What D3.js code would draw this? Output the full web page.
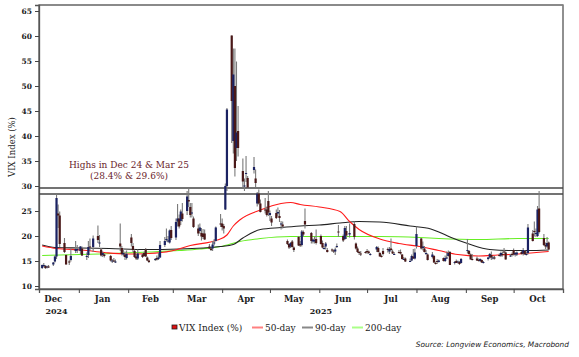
<!DOCTYPE html>
<html><head><meta charset="utf-8">
<script src="https://cdn.jsdelivr.net/npm/d3@7"></script>
<style>
html,body{margin:0;padding:0;background:#fff;}
svg{display:block;}
</style></head>
<body>
<svg id="chart" width="579" height="357"></svg>
<script>
// ---------- DATA ----------
const candleDates = [
"2024-12-09","2024-12-10","2024-12-11","2024-12-12","2024-12-13","2024-12-16","2024-12-17","2024-12-18","2024-12-19","2024-12-20","2024-12-23","2024-12-24","2024-12-26","2024-12-27","2024-12-30","2024-12-31",
"2025-01-02","2025-01-03","2025-01-06","2025-01-07","2025-01-08","2025-01-10","2025-01-13","2025-01-14","2025-01-15","2025-01-16","2025-01-17","2025-01-21","2025-01-22","2025-01-23","2025-01-24","2025-01-27","2025-01-28","2025-01-29","2025-01-30","2025-01-31",
"2025-02-03","2025-02-04","2025-02-05","2025-02-06","2025-02-07","2025-02-10","2025-02-11","2025-02-12","2025-02-13","2025-02-14","2025-02-18","2025-02-19","2025-02-20","2025-02-21","2025-02-24","2025-02-25","2025-02-26","2025-02-27","2025-02-28",
"2025-03-03","2025-03-04","2025-03-05","2025-03-06","2025-03-07","2025-03-10","2025-03-11","2025-03-12","2025-03-13","2025-03-14","2025-03-17","2025-03-18","2025-03-19","2025-03-20","2025-03-21","2025-03-24","2025-03-25","2025-03-26","2025-03-27","2025-03-28","2025-03-31",
"2025-04-01","2025-04-02","2025-04-03","2025-04-04","2025-04-07","2025-04-08","2025-04-09","2025-04-10","2025-04-11","2025-04-14","2025-04-15","2025-04-16","2025-04-17","2025-04-21","2025-04-22","2025-04-23","2025-04-24","2025-04-25","2025-04-28","2025-04-29","2025-04-30",
"2025-05-01","2025-05-02","2025-05-05","2025-05-06","2025-05-07","2025-05-08","2025-05-09","2025-05-12","2025-05-13","2025-05-14","2025-05-15","2025-05-16","2025-05-19","2025-05-20","2025-05-21","2025-05-22","2025-05-23","2025-05-27","2025-05-28","2025-05-29","2025-05-30",
"2025-06-02","2025-06-03","2025-06-04","2025-06-05","2025-06-06","2025-06-09","2025-06-10","2025-06-11","2025-06-12","2025-06-13","2025-06-16","2025-06-17","2025-06-18","2025-06-20","2025-06-23","2025-06-24","2025-06-25","2025-06-26","2025-06-27","2025-06-30",
"2025-07-01","2025-07-02","2025-07-03","2025-07-07","2025-07-08","2025-07-09","2025-07-10","2025-07-11","2025-07-14","2025-07-15","2025-07-16","2025-07-17","2025-07-18","2025-07-21","2025-07-22","2025-07-23","2025-07-24","2025-07-25","2025-07-28","2025-07-29","2025-07-30","2025-07-31",
"2025-08-01","2025-08-04","2025-08-05","2025-08-06","2025-08-07","2025-08-08","2025-08-11","2025-08-12","2025-08-13","2025-08-14","2025-08-15","2025-08-18","2025-08-19","2025-08-20","2025-08-21","2025-08-22","2025-08-25","2025-08-26","2025-08-27","2025-08-28","2025-08-29",
"2025-09-02","2025-09-03","2025-09-04","2025-09-05","2025-09-08","2025-09-09","2025-09-10","2025-09-11","2025-09-12","2025-09-15","2025-09-16","2025-09-17","2025-09-18","2025-09-19","2025-09-22","2025-09-23","2025-09-24","2025-09-25","2025-09-26","2025-09-29","2025-09-30",
"2025-10-01","2025-10-02","2025-10-03","2025-10-06","2025-10-07","2025-10-08","2025-10-09","2025-10-10","2025-10-13","2025-10-14","2025-10-15","2025-10-16","2025-10-17","2025-10-20","2025-10-21","2025-10-22","2025-10-23"
];
const opens = [
13.6,14.1,14.0,13.7,13.9,14.3,14.9,15.9,24.5,24.1,18.6,16.2,14.9,15.2,17.0,17.1,
17.0,17.5,16.0,16.2,17.9,17.8,20.0,18.6,17.3,16.2,16.3,16.0,15.0,15.1,14.9,18.5,17.6,16.3,16.3,15.6,
19.7,18.0,17.0,15.9,15.5,16.3,16.6,17.3,15.7,15.1,15.4,15.6,15.4,15.7,18.2,19.2,19.1,18.7,21.2,
19.7,22.9,23.5,23.0,24.5,25.0,27.2,25.8,24.5,23.5,21.5,21.0,20.6,20.5,20.5,17.9,17.5,17.5,18.6,19.0,22.5,
22.5,22.0,25.3,30.0,60.1,39.0,50.0,37.6,41.0,33.0,30.0,32.5,31.6,33.2,31.5,26.5,28.5,26.5,25.3,25.3,27.0,
24.2,23.5,24.6,24.5,24.0,22.3,22.3,19.0,18.4,17.9,18.9,17.7,19.8,18.4,18.2,20.8,23.0,20.6,18.9,18.9,19.4,
20.0,18.6,17.6,17.9,17.2,17.3,17.1,16.9,18.0,20.9,20.0,19.4,21.0,20.3,22.4,18.5,17.5,16.8,16.5,16.8,
17.0,16.9,16.4,17.3,17.6,16.6,16.0,17.0,17.4,16.9,17.5,16.9,16.3,16.8,16.8,16.3,15.4,15.5,15.0,15.1,15.9,15.5,
18.0,19.5,17.6,17.5,16.5,16.3,15.8,16.0,14.6,15.0,14.8,15.6,15.0,15.7,16.0,16.8,14.6,15.0,14.9,14.8,14.6,
17.0,17.0,16.3,15.4,15.5,15.2,15.0,15.2,14.6,15.4,15.7,16.2,15.6,15.7,16.2,16.1,16.4,16.9,16.7,15.9,16.4,
17.2,16.3,16.3,16.8,16.5,17.0,16.3,16.6,20.5,21.0,20.5,20.0,25.5,19.6,18.2,17.9,18.7
];
const highs = [
14.3,14.6,14.2,14.1,14.2,14.8,16.1,28.4,26.3,24.9,19.6,16.3,15.2,17.5,19.0,18.2,
18.0,17.9,16.7,19.0,19.5,20.1,22.1,20.2,17.6,16.9,16.5,16.2,15.4,15.6,15.3,22.5,18.0,17.2,16.9,17.1,
20.4,18.6,17.3,16.4,17.3,16.5,16.9,17.6,15.9,15.3,15.6,16.1,16.6,19.0,19.8,21.5,20.0,21.3,22.0,
23.5,26.4,24.3,25.3,26.6,29.0,29.6,26.6,26.6,23.9,22.3,22.5,21.6,21.4,21.3,18.4,17.9,19.0,19.4,21.9,24.4,
23.5,22.4,30.5,45.6,60.1,57.5,57.5,54.9,46.0,35.5,31.5,36.0,32.0,35.8,33.3,28.8,29.3,27.3,27.6,25.9,29.0,
25.1,24.0,25.3,25.7,25.2,23.0,22.9,19.3,18.5,18.8,19.2,17.9,20.0,19.0,21.2,21.1,25.5,20.8,19.5,19.9,21.3,
20.3,19.1,18.0,18.8,17.6,17.5,17.3,17.7,18.5,22.2,20.3,22.0,22.0,22.5,22.9,18.7,17.9,17.0,17.0,17.0,
17.4,17.1,16.6,18.0,17.9,16.8,16.3,17.6,17.7,17.8,19.5,17.3,16.8,17.2,17.3,16.4,15.8,15.7,15.5,16.3,17.4,17.5,
21.9,19.6,18.9,18.0,17.2,16.5,16.8,16.2,14.9,15.4,15.3,15.7,16.1,16.9,17.1,17.0,15.0,15.3,15.1,15.0,15.6,
19.4,17.2,16.5,16.4,15.9,15.5,15.5,15.3,15.0,15.8,16.6,16.9,16.0,16.0,16.5,16.9,16.9,17.6,16.9,16.4,16.7,
17.5,16.8,16.9,17.0,17.6,17.2,16.9,22.4,21.2,22.9,21.5,26.0,29.0,20.4,18.7,19.8,18.9
];
const lows = [
13.4,13.8,13.4,13.5,13.6,14.0,14.7,15.4,21.6,17.8,16.6,14.3,14.2,14.9,16.6,16.6,
16.4,16.0,15.2,15.6,17.1,16.8,18.6,17.8,15.9,15.8,15.7,14.9,14.6,14.8,14.6,17.0,16.1,15.9,15.2,15.3,
17.9,16.8,15.6,15.2,15.2,15.6,15.9,15.8,15.0,14.6,15.0,15.1,15.2,15.6,17.8,18.9,18.7,18.5,19.2,
19.2,21.9,21.5,22.2,22.9,24.2,25.8,23.7,23.7,21.6,20.0,20.5,19.1,19.4,19.2,17.4,17.0,17.0,18.1,18.9,21.8,
21.1,20.5,25.2,29.0,38.6,36.5,31.9,35.0,35.9,29.6,29.0,30.8,29.4,32.5,29.8,25.9,26.3,24.7,24.5,23.9,24.0,
23.0,22.0,23.4,23.9,22.8,21.3,21.5,18.2,17.4,17.6,17.7,16.8,18.0,17.8,17.9,19.9,21.5,18.5,18.5,18.5,18.3,
18.3,17.5,17.3,17.3,16.7,16.8,16.6,16.2,17.6,19.8,18.8,19.2,19.4,19.7,19.3,17.3,16.6,16.2,16.0,16.5,
16.4,16.4,16.1,16.8,16.7,15.9,15.7,16.1,16.7,16.4,16.9,16.4,16.2,16.5,16.3,15.3,15.2,14.8,14.9,15.0,15.4,15.3,
17.5,17.3,17.1,16.7,16.2,15.1,15.5,14.6,14.3,14.4,14.7,14.9,14.8,15.4,15.9,14.2,14.3,14.6,14.5,14.2,14.5,
16.5,16.2,15.3,15.1,15.0,14.9,14.8,14.6,14.5,15.1,15.5,15.2,15.3,15.3,15.9,15.8,15.9,16.5,15.3,15.8,15.9,
16.1,15.9,16.0,16.3,16.1,16.3,16.1,16.3,18.9,19.9,19.8,19.8,20.5,18.0,17.4,17.5,17.2
];
const closes = [
14.2,14.2,13.6,13.9,13.8,14.7,15.9,27.6,24.1,18.4,16.8,14.3,14.7,16.0,17.4,17.4,
17.9,16.1,16.0,17.8,17.7,19.5,19.2,18.7,16.1,16.6,16.0,15.1,15.1,15.0,14.9,17.9,16.4,16.6,15.8,16.4,
18.6,17.2,15.8,15.5,16.5,15.8,16.0,15.9,15.1,14.8,15.4,15.3,15.7,18.2,19.0,19.4,19.1,21.1,19.6,
22.8,23.5,21.9,24.9,23.4,27.9,26.9,24.2,24.7,21.8,20.5,21.7,19.9,19.8,19.3,17.5,17.2,18.3,18.7,21.7,22.3,
21.8,21.5,30.0,45.3,47.0,52.3,33.6,40.7,37.6,30.9,30.1,32.6,29.7,33.8,30.6,28.5,26.5,24.8,25.2,24.2,24.7,
24.6,22.7,23.6,24.8,23.6,22.5,21.9,18.4,17.7,18.6,17.8,17.2,18.1,18.1,20.9,20.3,22.3,19.0,19.3,19.2,18.6,
18.4,17.7,17.6,18.5,16.8,17.2,17.0,17.3,18.0,20.8,19.1,21.6,20.1,20.6,19.8,17.5,16.8,16.6,16.3,16.7,
16.8,16.6,16.4,17.8,16.8,15.9,15.8,16.4,17.2,17.4,17.2,16.5,16.4,16.7,16.5,15.4,15.4,14.9,15.0,16.0,15.5,16.7,
20.4,17.5,17.9,16.8,16.6,15.2,16.3,14.7,14.5,14.8,15.1,15.0,15.6,15.7,16.6,14.2,14.8,14.6,14.9,14.4,15.4,
17.2,16.4,15.3,15.2,15.1,15.0,15.4,14.7,14.8,15.7,16.4,15.7,15.7,15.5,16.1,16.6,16.2,16.7,15.3,16.1,16.3,
16.3,16.6,16.7,16.4,17.2,16.3,16.4,21.7,19.0,20.8,20.6,25.3,20.8,18.2,17.9,18.6,17.3
];

// moving averages at sample dates
const ma50Dates = ["2024-12-09","2024-12-18","2025-01-03","2025-01-17","2025-01-31","2025-02-14","2025-02-28","2025-03-12","2025-03-29","2025-04-04","2025-04-08","2025-04-12","2025-04-25","2025-05-08","2025-05-14","2025-05-20","2025-06-01","2025-06-14","2025-06-20","2025-06-26","2025-07-09","2025-07-21","2025-08-03","2025-08-15","2025-08-27","2025-09-09","2025-09-21","2025-10-04","2025-10-23"];
const ma50 = [18.0,17.5,17.2,16.7,16.4,16.5,17.0,18.1,19.2,20.2,22.0,23.2,25.2,26.5,26.7,26.3,25.8,24.9,22.9,21.3,19.4,18.5,17.9,17.1,16.3,16.0,16.2,16.4,16.9];
const ma90Dates = ["2024-12-09","2024-12-17","2025-01-02","2025-01-20","2025-02-12","2025-03-05","2025-03-31","2025-04-08","2025-04-14","2025-04-25","2025-05-08","2025-05-20","2025-06-01","2025-06-14","2025-06-26","2025-07-09","2025-07-28","2025-08-10","2025-08-15","2025-08-22","2025-09-03","2025-09-16","2025-09-28","2025-10-10","2025-10-23"];
const ma90 = [18.2,17.7,17.6,17.5,17.3,17.4,17.9,18.3,19.6,21.3,21.7,22.0,22.2,22.6,22.9,22.8,22.0,21.4,20.8,19.8,18.4,17.3,17.1,17.1,17.2];
const ma200Dates = ["2024-12-09","2025-01-14","2025-02-14","2025-03-05","2025-03-18","2025-03-31","2025-04-12","2025-04-25","2025-05-14","2025-07-09","2025-08-03","2025-08-15","2025-09-09","2025-10-04","2025-10-23"];
const ma200 = [16.1,16.4,16.8,17.1,17.4,17.9,18.9,19.5,19.9,19.9,19.7,19.5,19.3,19.5,19.5];

const yTicks = [10,15,20,25,30,35,40,45,50,55,60,65];
const monthTickDates = ["2025-01-01","2025-02-01","2025-03-01","2025-04-01","2025-05-01","2025-06-01","2025-07-01","2025-08-01","2025-09-01","2025-10-01"];
const monthLabels = ["Dec","Jan","Feb","Mar","Apr","May","Jun","Jul","Aug","Sep","Oct"];
const monthLabelDates = ["2024-12-16","2025-01-16","2025-02-15","2025-03-16","2025-04-16","2025-05-16","2025-06-16","2025-07-16","2025-08-16","2025-09-16","2025-10-16"];
const yearLabels = ["2024","2025"];
const yearLabelDates = ["2024-12-18","2025-06-02"];
const highLines = [28.4, 29.6];
const legendLabels = ["VIX Index (%)","50-day","90-day","200-day"];

// ---------- CHART ----------
const SERIF = "DejaVu Serif, Liberation Serif, serif";
const parse = d3.timeParse("%Y-%m-%d");
const svg = d3.select("#chart");
const L = 39, R = 563, T = 5, B = 289;

const x = d3.scaleTime().domain([parse("2024-12-07"), parse("2025-11-01")]).range([L, R]);
const y = d3.scaleLinear().domain([9.4, 66.2]).range([B, T]);

// frame
svg.append("rect").attr("x", L).attr("y", T).attr("width", R - L).attr("height", B - T)
  .attr("fill", "none").attr("stroke", "#555").attr("stroke-width", 1.3);
svg.append("line").attr("x1", L).attr("x2", R).attr("y1", T).attr("y2", T)
  .attr("stroke", "#888").attr("stroke-width", 1.5);

// y axis
const yAxis = d3.axisLeft(y).tickValues(yTicks).tickSize(4).tickFormat(d3.format("d"));
const gy = svg.append("g").attr("transform", `translate(${L},0)`).call(yAxis);
gy.select(".domain").attr("stroke", "#555").attr("stroke-width", 1.3);
gy.selectAll(".tick line").attr("stroke", "#444");
gy.selectAll(".tick text").style("font-family", SERIF).style("font-size", "7.5px")
  .style("font-weight", "bold").attr("fill", "#222").attr("x", -7);

// x axis (month boundary ticks)
const xAxis = d3.axisBottom(x).tickValues(monthTickDates.map(parse)).tickSize(4).tickFormat("");
const gx = svg.append("g").attr("transform", `translate(0,${B})`).call(xAxis);
gx.select(".domain").attr("stroke", "#555").attr("stroke-width", 1.3);
gx.selectAll(".tick line").attr("stroke", "#444");

svg.append("g").selectAll("text").data(monthLabels).join("text")
  .attr("x", (d, i) => x(parse(monthLabelDates[i])))
  .attr("y", 302).attr("text-anchor", "middle")
  .style("font-family", SERIF).style("font-size", "8.5px").style("font-weight", "bold")
  .attr("fill", "#222").text(d => d);
svg.append("g").selectAll("text").data(yearLabels).join("text")
  .attr("x", (d, i) => x(parse(yearLabelDates[i])))
  .attr("y", 314).attr("text-anchor", "middle")
  .style("font-family", SERIF).style("font-size", "8px").style("font-weight", "bold")
  .attr("fill", "#222").text(d => d);

// y title
svg.append("text").attr("transform", `translate(15,147) rotate(-90)`)
  .attr("text-anchor", "middle").style("font-family", SERIF).style("font-size", "8.5px")
  .attr("fill", "#222").text("VIX Index (%)");

// high lines
svg.append("g").selectAll("line").data(highLines).join("line")
  .attr("x1", L).attr("x2", R).attr("y1", d => y(d)).attr("y2", d => y(d))
  .attr("stroke", "#444").attr("stroke-width", 1.3);

// annotation
svg.append("text").attr("x", 129).attr("y", 168).attr("text-anchor", "middle")
  .style("font-family", SERIF).style("font-size", "9px").attr("fill", "#6a1d2c").text("Highs in Dec 24 & Mar 25");
svg.append("text").attr("x", 129).attr("y", 179).attr("text-anchor", "middle")
  .style("font-family", SERIF).style("font-size", "9px").attr("fill", "#6a1d2c").text("(28.4% & 29.6%)");

// moving averages
function maLine(dates, vals, color, w) {
  const pts = dates.map((d, i) => [x(parse(d)), y(vals[i])]);
  svg.append("path").attr("d", d3.line().curve(d3.curveMonotoneX)(pts))
    .attr("fill", "none").attr("stroke", color).attr("stroke-width", w);
}
maLine(ma200Dates, ma200, "#66ee22", 1.1);
maLine(ma90Dates, ma90, "#222222", 1.1);
maLine(ma50Dates, ma50, "#ff1a1a", 1.1);

// candles
const candles = candleDates.map((d, i) => ({d: parse(d), o: opens[i], h: highs[i], l: lows[i], c: closes[i]}));
const cg = svg.append("g");
cg.selectAll("line").data(candles).join("line")
  .attr("x1", d => x(d.d)).attr("x2", d => x(d.d))
  .attr("y1", d => y(d.h)).attr("y2", d => y(d.l))
  .attr("stroke", "#7a7a7a").attr("stroke-width", 1.1);
cg.selectAll("rect").data(candles).join("rect")
  .attr("x", d => x(d.d) - 1.1).attr("width", 2.2)
  .attr("y", d => y(Math.max(d.o, d.c)))
  .attr("height", d => Math.max(1, Math.abs(y(d.o) - y(d.c))))
  .attr("fill", d => d.c >= d.o ? "#1b2262" : "#4a1818");

// legend
const lg = svg.append("g");
lg.append("rect").attr("x", 172).attr("y", 325).attr("width", 5).attr("height", 4)
  .attr("fill", "#e01010").attr("stroke", "#222").attr("stroke-width", 0.8);
lg.append("text").attr("x", 179).attr("y", 331).style("font-family", SERIF).style("font-size", "9px")
  .attr("fill", "#222").text(legendLabels[0]);
const sw = [[252, "#ff8080", legendLabels[1], 265], [302, "#888888", legendLabels[2], 315], [352, "#aaff88", legendLabels[3], 365]];
sw.forEach(s => {
  lg.append("line").attr("x1", s[0]).attr("x2", s[0] + 11).attr("y1", 327.5).attr("y2", 327.5)
    .attr("stroke", s[1]).attr("stroke-width", 2);
  lg.append("text").attr("x", s[3]).attr("y", 331).style("font-family", SERIF).style("font-size", "9px")
    .attr("fill", "#222").text(s[2]);
});

// source
svg.append("text").attr("x", 569).attr("y", 347).attr("text-anchor", "end")
  .style("font-family", "DejaVu Sans, sans-serif").style("font-style", "italic")
  .style("font-size", "7.4px").attr("fill", "#222").text("Source: Longview Economics, Macrobond");
</script>
</body></html>
